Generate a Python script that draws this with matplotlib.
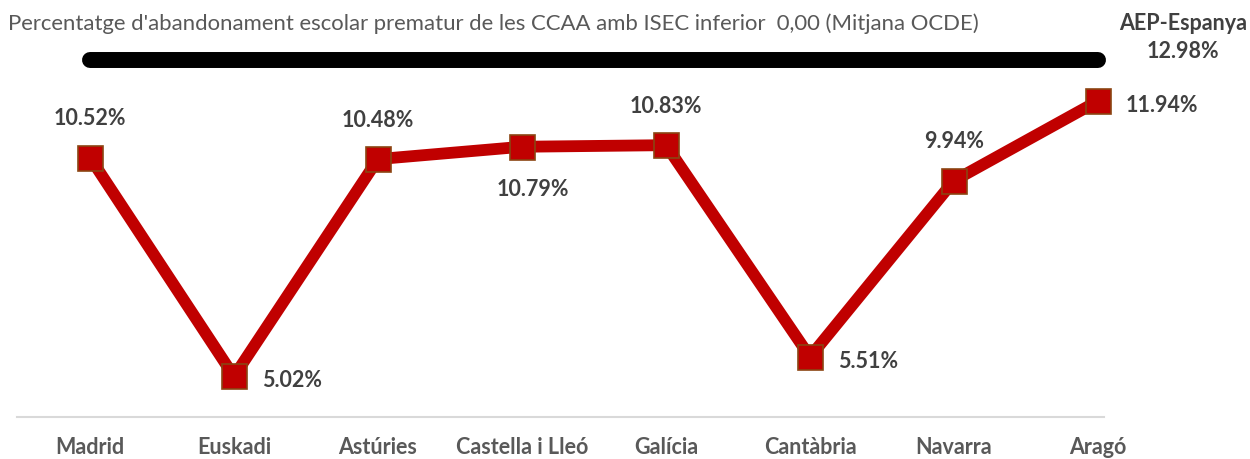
import matplotlib.pyplot as plt

# -------------------------
# Data
# -------------------------
regions = ["Madrid", "Euskadi", "Astúries", "Castella i Lleó", "Galícia",
           "Cantàbria", "Navarra", "Aragó"]
abandonment = [10.52, 5.02, 10.48, 10.79, 10.83, 5.51, 9.94, 11.94]
label_side = ["above", "right", "above", "below", "above", "right", "above", "right"]
spain_value = 12.98
title = "Percentatge d'abandonament escolar prematur de les CCAA amb ISEC inferior  0,00 (Mitjana OCDE)"

plt.rcParams["font.family"] = ["Lato", "DejaVu Sans"]

RED = "#C00000"
LABEL_GREY = "#404040"
AXIS_GREY = "#595959"

# -------------------------
# Figure / axes placed so that x=0..7 hits the category centres
# -------------------------
W, H = 1250, 459
PX_PER_UNIT = 39.8
fig = plt.figure(figsize=(W / 100, H / 100), dpi=100)
ax = fig.add_axes([18 / W, 1 - 417 / H, (1170 - 18) / W, (417 - 20) / H])
ax.set_xlim(-0.5, 7.5)
ax.set_ylim(4.0, 4.0 + (417 - 20) / PX_PER_UNIT)
ax.axis("off")

x = list(range(len(regions)))

# Spain reference line
ax.plot([0, 7], [spain_value, spain_value], color="black", lw=11.5,
        solid_capstyle="round", zorder=2)

# regional line
ax.plot(x, abandonment, color=RED, lw=8.5, marker="s", markersize=18,
        markerfacecolor=RED, markeredgecolor="#8B4513", markeredgewidth=1.2,
        zorder=3)

# value labels
for xi, v, side in zip(x, abandonment, label_side):
    txt = f"{v:.2f}%"
    if side == "above":
        ax.annotate(txt, (xi, v), xytext=(0, 28), textcoords="offset points",
                    ha="center", va="center", fontsize=15.5, fontweight="bold",
                    color=LABEL_GREY)
    elif side == "below":
        ax.annotate(txt, (xi, v), xytext=(8, -31), textcoords="offset points",
                    ha="center", va="center", fontsize=15.5, fontweight="bold",
                    color=LABEL_GREY)
    else:
        ax.annotate(txt, (xi, v), xytext=(20, -3), textcoords="offset points",
                    ha="left", va="center", fontsize=15.5, fontweight="bold",
                    color=LABEL_GREY)

# bottom axis line
ax.plot([-0.507, 7.04], [4.0, 4.0], color="#D9D9D9", lw=1.5, clip_on=False)

# category labels
for xi, name in zip(x, regions):
    ax.text(xi, 4.0 - (448 - 417) / PX_PER_UNIT, name, ha="center", va="center",
            fontsize=15.5, fontweight="bold", color=AXIS_GREY)

# title and Spain label
fig.text(8 / W, 1 - 24 / H, title, ha="left", va="center", fontsize=15.9,
         color=AXIS_GREY)
fig.text(1183 / W, 1 - 23 / H, "AEP-Espanya", ha="center", va="center",
         fontsize=15.5, fontweight="bold", color=LABEL_GREY)
fig.text(1183 / W, 1 - 51 / H, f"{spain_value:.2f}%", ha="center", va="center",
         fontsize=15.5, fontweight="bold", color=LABEL_GREY)

fig.savefig("out.png", dpi=100)
